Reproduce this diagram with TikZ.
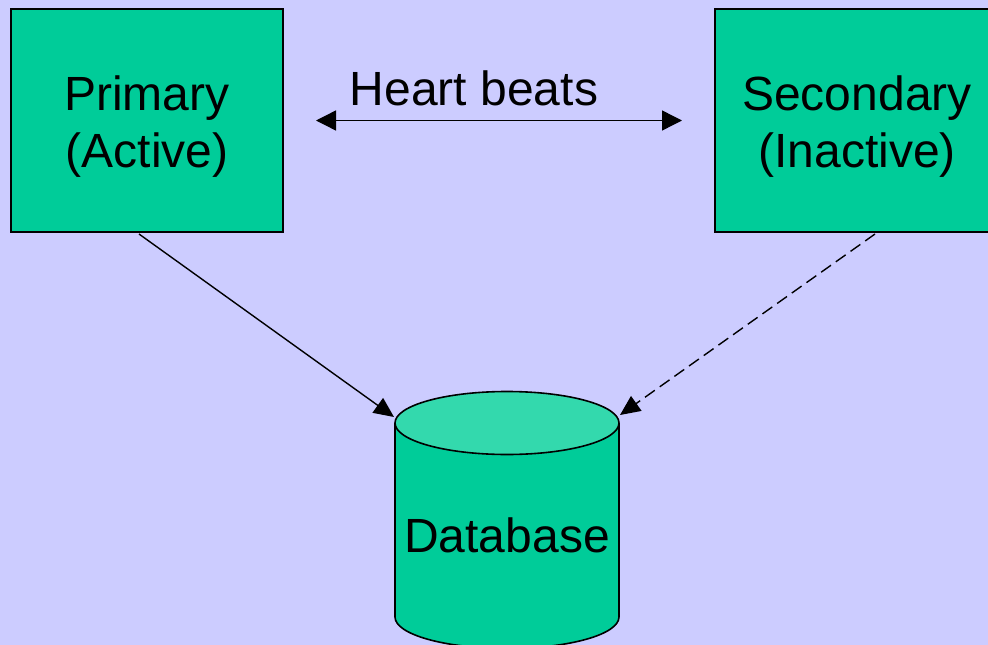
\documentclass[tikz,border=0pt]{standalone}
\usepackage{fontspec}
\setmainfont{Liberation Sans}
\usetikzlibrary{arrows.meta,shapes.geometric}
\definecolor{bgc}{HTML}{CCCCFF}
\definecolor{boxg}{HTML}{00CC99}
\definecolor{topg}{HTML}{33D9AD}
\tikzset{
  serverbox/.style={draw=black,line width=2pt,fill=boxg,rectangle,inner sep=0pt},
  boxtext/.style={align=center,inner sep=0pt,font=\fontsize{48pt}{57pt}\selectfont},
  conn/.style={line width=1.4pt,-{Triangle[length=20pt,width=18pt]}},
  hb/.style={line width=1.4pt,{Triangle[length=20pt,width=20pt]}-{Triangle[length=20pt,width=20pt]}},
  dblabel/.style={font=\fontsize{48pt}{57pt}\selectfont,inner sep=0pt},
  cyl/.style={line width=1.6pt,draw=black}
}
\begin{document}
\begin{tikzpicture}[x=1pt,y=-1pt]
\fill[bgc] (0,0) rectangle (988,645);
\useasboundingbox (0,0) rectangle (988,645);
% boxes
\node[serverbox,minimum width=272pt,minimum height=223pt] (p) at (147,120.5) {};
\node[serverbox,minimum width=284pt,minimum height=223pt] (s) at (857,120.5) {};
\node[boxtext] (pt) at ([yshift=-6pt]p.center) {Primary\\(Active)};
\node[boxtext] (st) at ([yshift=-6pt]s.center) {Secondary\\(Inactive)};
% heart beats
\node[dblabel,anchor=base] (hbt) at (474,105) {Heart beats};
\draw[hb,shorten <=32pt,shorten >=32pt] (p.east) -- (s.west);
% database cylinder
\filldraw[cyl,fill=boxg] (507,617) ellipse[x radius=112pt,y radius=31.5pt];
\fill[boxg] (395,423) rectangle (619,617);
\draw[cyl] (395,423) -- (395,617);
\draw[cyl] (619,423) -- (619,617);
\node[ellipse,cyl,fill=topg,minimum width=224pt,minimum height=63pt,inner sep=0pt] (db) at (507,423) {};
\node[dblabel,anchor=base] (dbt) at (507,552) {Database};
% connectors
\coordinate (dbl) at (394,417);
\coordinate (dbr) at (620,415);
\draw[conn] ([xshift=-8pt,yshift=-1pt]p.south) -- (dbl);
\draw[conn,dashed,dash pattern=on 12pt off 6pt] ([xshift=18pt,yshift=-1pt]s.south) -- (dbr);
\end{tikzpicture}
\end{document}
